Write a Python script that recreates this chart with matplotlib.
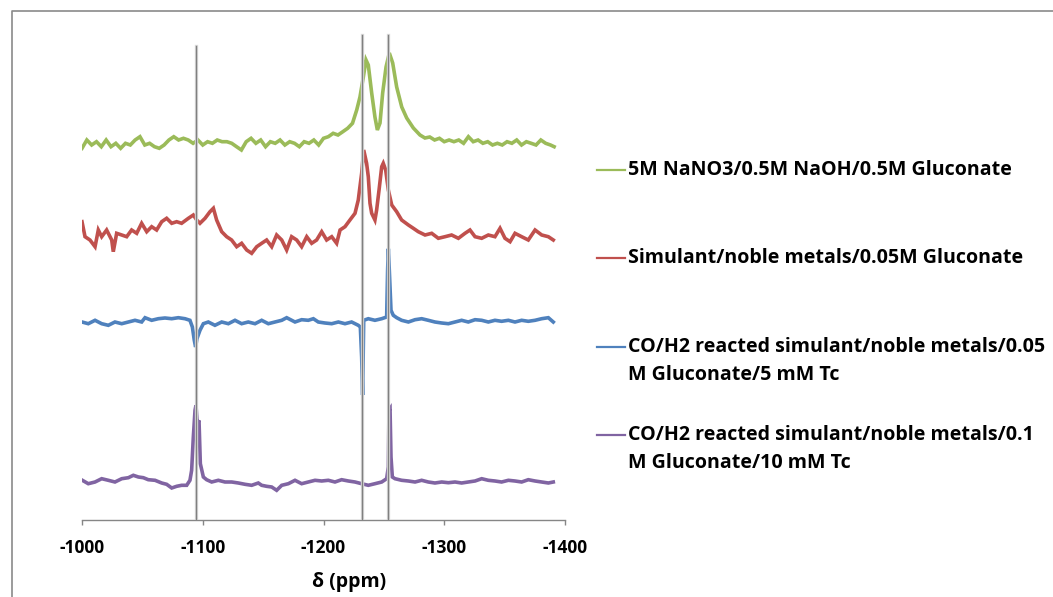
import matplotlib
matplotlib.use("Agg")
import matplotlib.pyplot as plt
from matplotlib.lines import Line2D

W, H = 1053, 597

# chemical shift (ppm) and intensity (a.u., measured from each trace's own baseline)
ppm_green = [-1000, -1004, -1008, -1012, -1016, -1020, -1024, -1028, -1032, -1036,
             -1040, -1044, -1048, -1052, -1056, -1060, -1064, -1068, -1072, -1076,
             -1080, -1084, -1088, -1092, -1096, -1100, -1104, -1108, -1112, -1116,
             -1120, -1124, -1128, -1132, -1136, -1140, -1144, -1148, -1152, -1156,
             -1160, -1164, -1168, -1172, -1176, -1180, -1184, -1188, -1192, -1196,
             -1200, -1204, -1208, -1212, -1216, -1220, -1224, -1227.5, -1230.2, -1233,
             -1235.2, -1237.1, -1239.9, -1242.6, -1244.6, -1246.8, -1249, -1251.8, -1254.5, -1257.3,
             -1260.6, -1264.8, -1268.9, -1274.4, -1279.9, -1284, -1288, -1292, -1296, -1300,
             -1304, -1308, -1312, -1316, -1320, -1324, -1328, -1332, -1336, -1340,
             -1344, -1348, -1352, -1356, -1360, -1364, -1368, -1372, -1376, -1380,
             -1384, -1388, -1391]
int_green = [-1.3, 7, 2, 5.3, 0.3, 7, 0.3, 3.7, -1.3, 3.7,
             2, 7, 10.3, 2, 3.7, 0.3, -1.3, 2, 7, 10.3,
             7, 8.7, 7, 3.7, 7, 2, 5.3, 3.7, 7, 5.3,
             5.3, 3.7, 0.3, -3, 5.3, 8.7, 3.7, 7, 0.3, 5.3,
             3.7, 7, 2, 5.3, 3.7, 0.3, 5.3, 3.7, 7, 2,
             8.7, 10.3, 13.7, 12, 15.3, 18.7, 23.7, 37, 50, 70,
             87, 82, 54, 30, 17, 24, 54, 80, 94, 84,
             60, 40, 29, 19, 12, 9, 10, 7, 8.7, 5.3,
             7, 5.3, 7, 3.7, 10.3, 5.3, 7, 3.7, 5.3, 2,
             3.7, 2, 5.3, 3.7, 7, 2, 5.3, 3.7, 2, 7,
             3.7, 2, 0.3]

ppm_red = [-1000, -1002.5, -1006.6, -1010.8, -1013.5, -1016.3, -1020.4, -1024.6, -1025.9, -1028.7,
           -1032.9, -1037, -1041.1, -1045.3, -1049.4, -1053.6, -1057.7, -1061.8, -1066, -1070.1,
           -1074.3, -1078.4, -1082.5, -1088.1, -1092.2, -1095, -1097.7, -1101.9, -1106, -1108.8,
           -1111.5, -1115.7, -1119.8, -1123.9, -1128.1, -1132.2, -1136.4, -1140.5, -1144.7, -1148.8,
           -1152.9, -1157.1, -1161.2, -1165.4, -1169.5, -1173.6, -1177.8, -1181.9, -1186.1, -1190.2,
           -1194.3, -1198.5, -1202.6, -1206.8, -1210.9, -1213.7, -1217.8, -1221.9, -1226.1, -1228.8,
           -1231.6, -1233.3, -1235.7, -1237.1, -1238.5, -1239.9, -1242.6, -1244, -1246, -1248.2,
           -1249.5, -1251.5, -1253.7, -1256.5, -1260.6, -1264.7, -1270.3, -1274.4, -1278.5, -1284.1,
           -1289.6, -1295.1, -1300.6, -1306.1, -1311.7, -1317.2, -1321.3, -1325.5, -1331, -1336.5,
           -1342, -1346.2, -1350.3, -1354.5, -1358.6, -1364.1, -1369.6, -1375.2, -1380.7, -1386.2,
           -1390.3]
int_red = [13.3, -1.7, -5, -11.7, 5, -1.7, 5, -5, -16.7, 1.7,
           0, -1.7, 5, 1.7, 11.7, 3.3, 8.3, 5, 13.3, 16.7,
           11.7, 13.3, 11.7, 16.7, 20, 15, 11.7, 16.7, 23.3, 26.7,
           15, 3.3, -1.7, -5, -11.7, -8.3, -15, -18.3, -11.7, -8.3,
           -5, -11.7, 0, -5, -15, -1.7, -5, -11.7, -1.7, -8.3,
           -5, 3.3, -5, -1.7, -8.3, 5, 8.3, 15, 21.7, 35,
           61.7, 85, 71.7, 58.3, 31.7, 21.7, 15, 25, 45, 68.3,
           71.7, 65, 45, 30, 23.3, 15, 10, 6.7, 3.3, 0,
           1.7, -3.3, -1.7, 0, -3.3, 1.7, 5, -1.7, -3.3, 0,
           -1.7, 6.7, -3.3, -6.7, 1.7, -1.7, -5, 5, 0, -1.7,
           -5]

ppm_blue = [-1000, -1005.2, -1010.8, -1016.3, -1021.8, -1027.3, -1032.9, -1038.4, -1043.9, -1049.4,
            -1052.2, -1057.7, -1063.2, -1068.7, -1074.3, -1079.8, -1085.3, -1089.4, -1091.4, -1093,
            -1094.1, -1095.2, -1097.7, -1100.5, -1104.6, -1110.1, -1115.7, -1121.2, -1126.7, -1132.2,
            -1137.7, -1143.3, -1148.8, -1154.3, -1159.8, -1165.4, -1169.5, -1176.4, -1181.9, -1187.4,
            -1191.6, -1195.7, -1201.2, -1206.8, -1212.3, -1217.8, -1223.3, -1228.8, -1230.5, -1231.6,
            -1232.4, -1233.3, -1237.1, -1242.6, -1248.2, -1252.3, -1253.1, -1253.7, -1254.5, -1255.9,
            -1257.8, -1260.6, -1264.7, -1270.3, -1275.8, -1281.3, -1286.8, -1292.3, -1297.9, -1303.4,
            -1308.9, -1314.4, -1319.9, -1325.5, -1331, -1336.5, -1342, -1347.5, -1353.1, -1358.6,
            -1364.1, -1369.6, -1375.2, -1380.7, -1386.2, -1390.3]
int_blue = [0, -1.7, 1.7, -1.7, -3.3, 0, -1.7, 0, 1.7, 0,
            4.3, 1.7, 3.3, 4, 3.3, 4.3, 3.3, 1.7, -5, -18.3,
            -25, -16.7, -8.3, -1.7, 0, -3.3, 0, -1.7, 1.7, -1.7,
            0, -1.7, 1.7, -1.7, 0, 1.7, 4.3, 0, 2.3, 1.7,
            3.3, 0, -1, -1.7, 0, -1.7, 0, -3.3, -5, -35,
            -73, 1.7, 3.3, 1.7, 3.3, 5, 51.7, 73.3, 51.7, 11.7,
            6.7, 4.3, 1.7, 0, 2.3, 3.3, 1.7, 0, -1, -1.7,
            0, 1.7, 0, 2.3, 1.7, 0, 1.7, 0.7, 1.7, 0,
            1.7, 0.7, 1.7, 3.3, 4.3, 0]

ppm_purple = [-1000.3, -1005.2, -1010.8, -1016.3, -1021.8, -1027.3, -1032.9, -1038.4, -1042.5, -1046.7,
              -1050.8, -1054.9, -1060.5, -1066, -1070.1, -1074.3, -1078.4, -1082.5, -1086.7, -1089.4,
              -1090.8, -1092.2, -1093.6, -1094.4, -1095.5, -1096.9, -1098, -1100.5, -1103.2, -1107.4,
              -1112.9, -1118.4, -1124, -1129.5, -1135, -1140.5, -1146, -1148.8, -1152.9, -1157.1,
              -1161.2, -1165.4, -1170.9, -1176.4, -1181.9, -1187.4, -1193, -1198.5, -1204, -1209.5,
              -1215, -1220.6, -1226.1, -1231.6, -1237.1, -1242.6, -1248.2, -1252.3, -1253.7, -1254.2,
              -1255.1, -1255.9, -1257, -1259.2, -1264.7, -1270.3, -1275.8, -1281.3, -1286.8, -1292.3,
              -1297.9, -1303.4, -1308.9, -1314.4, -1319.9, -1325.5, -1331, -1336.5, -1342, -1347.5,
              -1353.1, -1358.6, -1364.1, -1369.6, -1375.2, -1380.7, -1386.2, -1390.3]
int_purple = [1.7, -1.7, 0, 3.3, 1.7, 0, 3.3, 4.3, 6.7, 5,
              4.3, 2.3, 1.7, -1, -2.3, -6, -4.3, -3.3, -3.3, 1.7,
              11.7, 45, 71.7, 76.7, 58.3, 61.7, 18.3, 5, 2.3, 0,
              1.7, 0, 0, -1, -2.3, -3.3, -1, -3.3, -4.3, -5,
              -8.3, -3.3, -1.7, 1.7, -1.7, 0, 1.7, 1, 1.7, 0,
              2.3, 1, 0, -1.7, -3.3, -1.7, 0, 3.3, 15, 71.7,
              73.3, 25, 5, 3.3, 1.7, 1, 0, 1.7, 0, -1,
              0, -0.7, 0, -1, 0, 1, 3.3, 1.7, 1, 0,
              1.7, 1, 0, 2.3, 1, 0, -1, 0]

labels = ["5M NaNO3/0.5M NaOH/0.5M Gluconate",
          "Simulant/noble metals/0.05M Gluconate",
          "CO/H2 reacted simulant/noble metals/0.05\nM Gluconate/5 mM Tc",
          "CO/H2 reacted simulant/noble metals/0.1\nM Gluconate/10 mM Tc"]
ref_shifts = [-1094.4, -1232.0, -1253.7]
xticks = [-1000, -1100, -1200, -1300, -1400]

series = [(ppm_green, int_green), (ppm_red, int_red),
          (ppm_blue, int_blue), (ppm_purple, int_purple)]
colors = ["#9BBB59", "#C0504D", "#4F81BD", "#8064A2"]
offsets = [373, 285, 198, 38]   # stacking of the spectra
FONT = ["Open Sans", "DejaVu Sans"]


def fx(px):
    return px / W


def fy(py):
    return 1 - py / H


fig = plt.figure(figsize=(W / 100, H / 100), dpi=100)
fig.patch.set_facecolor("white")

# chart border (top and left edges visible in the crop)
fig.add_artist(Line2D([fx(12), fx(12), fx(W + 5)], [fy(H + 5), fy(11), fy(11)],
                      color="#8a8a8a", lw=1.2))

ax = fig.add_axes([fx(82), fy(520), fx(565) - fx(82), fy(30) - fy(520)])
ax.set_xlim(-1000, -1400)
ax.set_ylim(0, 490)

for (x, y), c, off in zip(series, colors, offsets):
    ax.plot(x, [v + off for v in y], color=c, lw=2.6, zorder=2,
            solid_joinstyle="miter")

tops = [0.967, 0.99, 0.99]
for xs, t in zip(ref_shifts, tops):
    ax.axvline(xs, ymin=0, ymax=t, color="#dcdcdc", lw=2.4, zorder=3)
    ax.axvline(xs, ymin=0, ymax=t, color="#808080", lw=1.0, zorder=4)

for s in ["top", "right", "left"]:
    ax.spines[s].set_visible(False)
ax.spines["bottom"].set_color("#868686")
ax.spines["bottom"].set_linewidth(1.0)
ax.set_yticks([])
ax.set_xticks(xticks)
ax.set_xticklabels([str(t) for t in xticks], fontsize=12.5, fontweight="bold",
                   family=FONT)
ax.tick_params(axis="x", direction="out", length=3.5, width=1.0,
               color="#868686", pad=10)
ax.set_facecolor("none")

fig.text(fx(349), fy(582), "\u03b4 (ppm)", ha="center", va="center",
         fontsize=14, fontweight="bold", family=FONT)

# legend drawn by hand
row_y = [170, 258.3, 346.7, 435]
for lab, c, ry in zip(labels, colors, row_y):
    fig.add_artist(Line2D([fx(597), fx(625)], [fy(ry), fy(ry)], color=c, lw=1.6))
    for k, part in enumerate(lab.split("\n")):
        fig.text(fx(628), fy(ry + 28.3 * k), part, ha="left", va="center",
                 fontsize=14.1, fontweight="bold", family=FONT)

fig.savefig("out.png", dpi=100)
